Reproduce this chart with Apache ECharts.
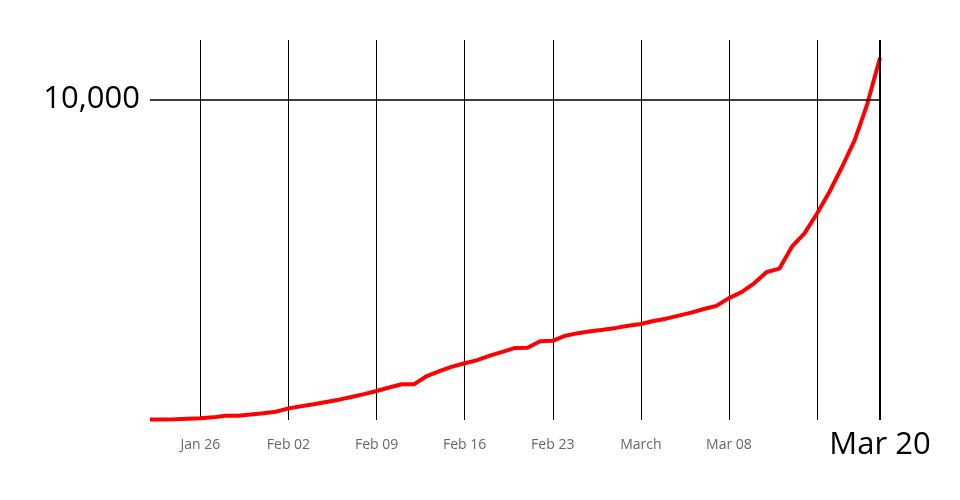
<!DOCTYPE html>
<html>
<head>
<meta charset="utf-8">
<script src="https://cdn.jsdelivr.net/npm/echarts@6/dist/echarts.min.js"></script>
<style>
html,body{margin:0;padding:0;background:#fff;}
#chart{width:960px;height:500px;}
</style>
</head>
<body>
<div id="chart"></div>
<script>
// Dates (categories), Jan 22 .. Mar 20, 2020
const dates = [
 '2020-01-22','2020-01-23','2020-01-24','2020-01-25','2020-01-26','2020-01-27','2020-01-28','2020-01-29','2020-01-30','2020-01-31',
 '2020-02-01','2020-02-02','2020-02-03','2020-02-04','2020-02-05','2020-02-06','2020-02-07','2020-02-08','2020-02-09','2020-02-10',
 '2020-02-11','2020-02-12','2020-02-13','2020-02-14','2020-02-15','2020-02-16','2020-02-17','2020-02-18','2020-02-19','2020-02-20',
 '2020-02-21','2020-02-22','2020-02-23','2020-02-24','2020-02-25','2020-02-26','2020-02-27','2020-02-28','2020-02-29','2020-03-01',
 '2020-03-02','2020-03-03','2020-03-04','2020-03-05','2020-03-06','2020-03-07','2020-03-08','2020-03-09','2020-03-10','2020-03-11',
 '2020-03-12','2020-03-13','2020-03-14','2020-03-15','2020-03-16','2020-03-17','2020-03-18','2020-03-19','2020-03-20'
];
// Cumulative values
const values = [
 17,18,26,42,56,82,131,133,171,213,
 259,362,426,492,564,634,719,806,906,1013,
 1113,1118,1371,1523,1666,1770,1868,2007,2122,2247,
 2251,2458,2469,2629,2708,2770,2814,2872,2941,2996,
 3085,3160,3254,3348,3460,3558,3802,3988,4262,4615,
 4720,5404,5819,6440,7126,7905,8733,9867,11299
];
// Vertical grid lines (weekly)
const gridDates = ['2020-01-26','2020-02-02','2020-02-09','2020-02-16','2020-02-23','2020-03-01','2020-03-08','2020-03-15'];
// Tick labels
const tickDates = ['2020-01-26','2020-02-02','2020-02-09','2020-02-16','2020-02-23','2020-03-01','2020-03-08','2020-03-20'];
const tickTexts = ['Jan 26','Feb 02','Feb 09','Feb 16','Feb 23','March','Mar 08','Mar 20'];
const lastDate = '2020-03-20';
const yLabelValue = 10000;
const yLabelText = '10,000';

const chart = echarts.init(document.getElementById('chart'), null, {renderer:'canvas'});
const font = '"Open Sans", sans-serif';
chart.setOption({
  animation: false,
  backgroundColor: '#fff',
  grid: {left: 150, right: 80, top: 40, bottom: 80},
  xAxis: {
    type: 'category',
    data: dates,
    boundaryGap: false,
    axisLine: {show: false},
    axisTick: {show: false},
    splitLine: {
      show: true,
      interval: function (i, v) { return gridDates.indexOf(v) >= 0; },
      lineStyle: {color: '#000', width: 1}
    },
    axisLabel: {
      interval: function (i, v) { return tickDates.indexOf(v) >= 0; },
      margin: 25,
      verticalAlign: 'middle',
      formatter: function (v) {
        const k = tickDates.indexOf(v);
        if (k < 0) return '';
        return v === lastDate ? '{big|' + tickTexts[k] + '}' : '{small|' + tickTexts[k] + '}';
      },
      rich: {
        small: {fontFamily: font, fontSize: 14, color: '#666'},
        big: {fontFamily: font, fontSize: 31, color: '#000'}
      }
    }
  },
  yAxis: {
    type: 'value',
    min: 0,
    max: 11850,
    interval: 10000,
    axisLine: {show: false},
    axisTick: {show: false},
    splitLine: {show: false},
    axisLabel: {
      margin: 10,
      fontFamily: font,
      fontSize: 31,
      color: '#000',
      formatter: function (v) { return v === yLabelValue ? yLabelText : ''; }
    }
  },
  series: [{
    type: 'line',
    data: values,
    showSymbol: false,
    symbol: 'none',
    lineStyle: {color: '#ff0000', width: 4},
    z: 3,
    markLine: {
      silent: true,
      symbol: ['none', 'none'],
      label: {show: false},
      animation: false,
      data: [
        {yAxis: yLabelValue, lineStyle: {color: '#000', width: 1.6, type: 'solid'}},
        {xAxis: lastDate, lineStyle: {color: '#000', width: 2, type: 'solid'}}
      ]
    }
  }]
});
</script>
</body>
</html>
